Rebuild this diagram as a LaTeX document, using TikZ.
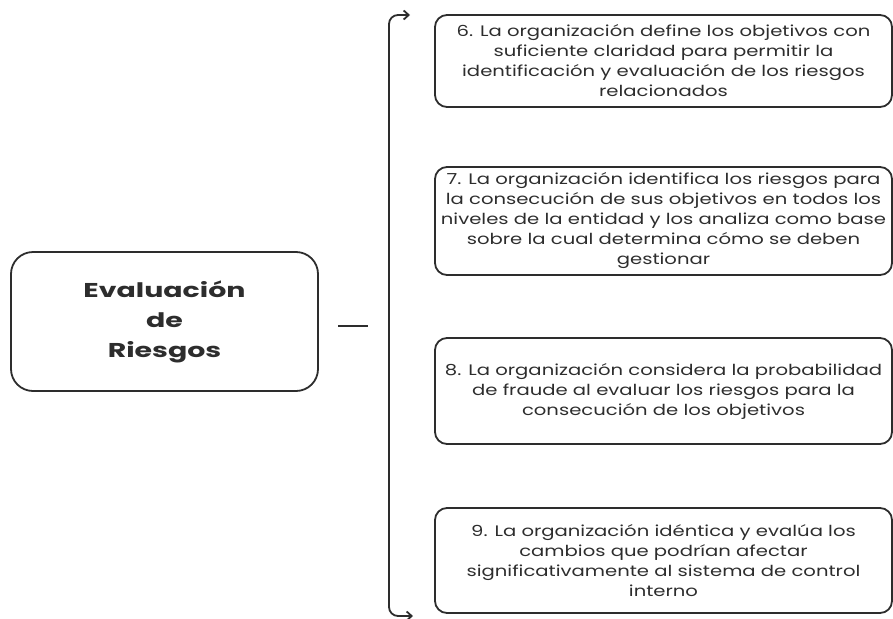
\documentclass[tikz,border=0pt]{standalone}
\usepackage{fontspec}
\setmainfont{Poppins}
\newfontfamily\letracaja[FakeStretch=1.29]{Poppins}
\newfontfamily\letratema[FakeStretch=1.42]{Poppins}
\usetikzlibrary{arrows.meta}
\definecolor{tinta}{RGB}{45,45,45}

\begin{document}
\begin{tikzpicture}[x=1pt,y=-1pt,
	tema/.style={draw=tinta, line width=1.8pt, rounded corners=22pt, align=center, text=tinta, font=\letratema\fontsize{20}{30}\selectfont\bfseries, minimum width=307pt, minimum height=139pt},
	caja/.style={draw=tinta, line width=1.8pt, rounded corners=12pt, align=center, text=tinta, font=\letracaja\fontsize{15.2}{20}\selectfont, minimum width=457pt, inner sep=0pt},
	trazo/.style={draw=tinta, line width=1.8pt}]
	\useasboundingbox (0,0) rectangle (893,618);
	\node[tema] (eval) at (164.5,321.5) {Evaluación\\de\\Riesgos};
	\coordinate (guion-a) at (338,326);
	\coordinate (guion-b) at (368,326);
	\draw[trazo] (guion-a) -- (guion-b);
	\coordinate (llave-a) at (410,15);
	\coordinate (llave-m) at (389,300);
	\coordinate (llave-b) at (413,616);
	\draw[trazo, rounded corners=9pt, {Straight Barb[length=5pt,width=9pt]}-{Straight Barb[length=5pt,width=9pt]}] (llave-a) -| (llave-m) |- (llave-b);
	\node[caja, minimum height=92pt] (p6) at (663.5,61) {6. La organización define los objetivos con\\suficiente claridad para permitir la\\identificación y evaluación de los riesgos\\relacionados};
	\node[caja, minimum height=108pt] (p7) at (663.5,221) {7. La organización identifica los riesgos para\\la consecución de sus objetivos en todos los\\niveles de la entidad y los analiza como base\\sobre la cual determina cómo se deben\\gestionar};
	\node[caja, minimum height=106pt] (p8) at (663.5,391) {8. La organización considera la probabilidad\\de fraude al evaluar los riesgos para la\\consecución de los objetivos};
	\node[caja, minimum height=105pt] (p9) at (663.5,560.5) {9. La organización idéntica y evalúa los\\cambios que podrían afectar\\significativamente al sistema de control\\interno};
\end{tikzpicture}
\end{document}
